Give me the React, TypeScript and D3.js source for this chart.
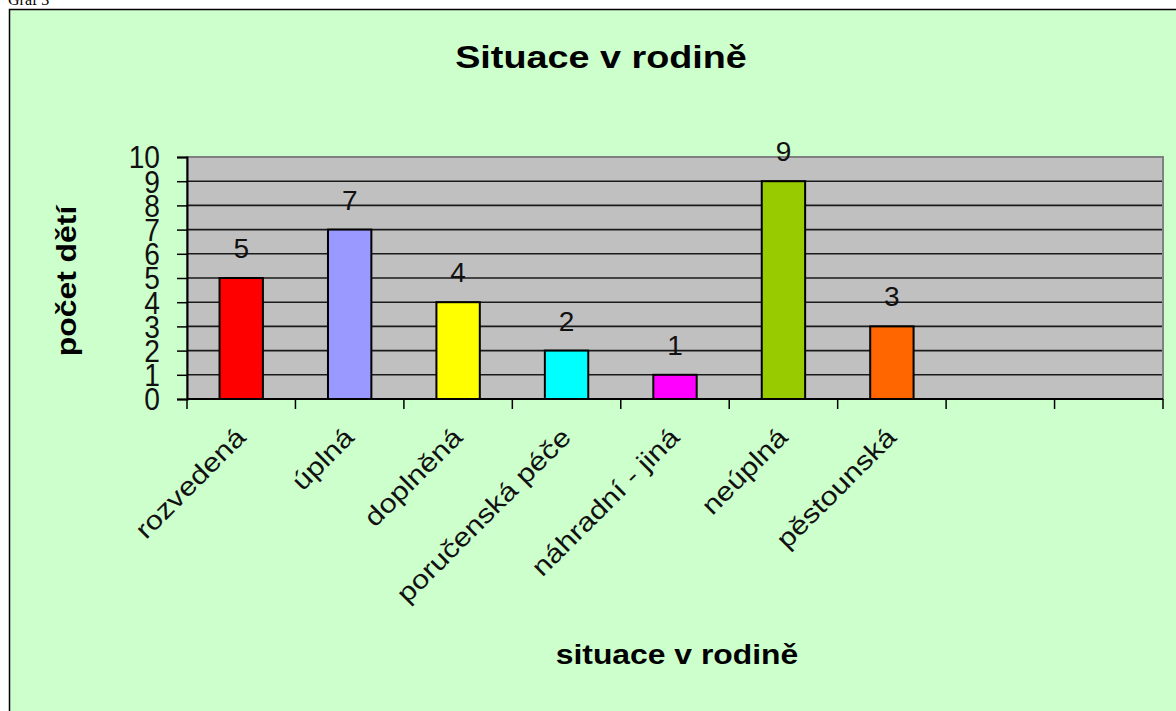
import React, { useEffect, useRef } from "react";
import * as d3 from "d3";

// === Data ===
const categories = ["rozvedená", "úplná", "doplněná", "poručenská péče", "náhradní - jiná", "neúplná", "pěstounská"];
const emptySlots = ["", ""]; // two unused category slots on the right
const values = [5, 7, 4, 2, 1, 9, 3];
const barColors = ["#FF0000", "#9999FF", "#FFFF00", "#00FFFF", "#FF00FF", "#99CC00", "#FF6600"];
const yTicks = [0, 1, 2, 3, 4, 5, 6, 7, 8, 9, 10];

const chartTitle = "Situace v rodině";
const xTitle = "situace v rodině";
const yTitle = "počet dětí";
const caption = "Graf 3";

const FONT = "'Liberation Sans', Arial, sans-serif";
const WIDE = 1.18; // original text is set a bit wider than Arial

const App = () => {
    const ref = useRef<SVGSVGElement>(null);

    useEffect(() => {
        const svg = d3.select(ref.current);
        svg.selectAll("*").remove();

        const width = 1176;
        const height = 711;
        const plot = { left: 187, right: 1163, top: 157, bottom: 399 };

        // rescale a text node's length (wider or narrower than the font's own)
        const fit = (factor: number) => (sel: any) =>
            sel.each(function (this: SVGTextElement) {
                const len = this.getComputedTextLength();
                if (len > 0) {
                    this.setAttribute("textLength", String(len * factor));
                    this.setAttribute("lengthAdjust", "spacingAndGlyphs");
                }
            });

        svg.append("text")
            .attr("x", 8)
            .attr("y", 5)
            .attr("font-family", "'Liberation Serif', 'Times New Roman', serif")
            .attr("font-size", 16)
            .text(caption);

        // chart frame
        svg.append("rect")
            .attr("x", 9.5)
            .attr("y", 9.5)
            .attr("width", width)
            .attr("height", height)
            .attr("fill", "#CCFFCC")
            .attr("stroke", "#000")
            .attr("stroke-width", 1.5);

        const slots = [...categories, ...emptySlots.map((_, i) => `__empty${i}`)];
        const x = d3.scaleBand<string>().domain(slots).range([plot.left, plot.right]).padding(0);
        const y = d3.scaleLinear().domain([0, 10]).range([plot.bottom, plot.top]);

        // plot area
        svg.append("rect")
            .attr("x", plot.left)
            .attr("y", plot.top)
            .attr("width", plot.right - plot.left)
            .attr("height", plot.bottom - plot.top)
            .attr("fill", "#C0C0C0")
            .attr("stroke", "#808080")
            .attr("stroke-width", 2);

        svg.append("g")
            .selectAll("line")
            .data(yTicks.slice(1, -1))
            .join("line")
            .attr("x1", plot.left)
            .attr("x2", plot.right - 1)
            .attr("y1", d => y(d))
            .attr("y2", d => y(d))
            .attr("stroke", "#1a1a1a")
            .attr("stroke-width", 1.6);

        // bars
        const barW = x.bandwidth() * 0.4;
        svg.append("g")
            .selectAll("rect")
            .data(categories)
            .join("rect")
            .attr("x", d => (x(d) ?? 0) + (x.bandwidth() - barW) / 2)
            .attr("y", (d, i) => y(values[i]))
            .attr("width", barW)
            .attr("height", (d, i) => y(0) - y(values[i]))
            .attr("fill", (d, i) => barColors[i])
            .attr("stroke", "#000")
            .attr("stroke-width", 2);

        // value labels
        svg.append("g")
            .selectAll("text")
            .data(categories)
            .join("text")
            .attr("x", d => (x(d) ?? 0) + x.bandwidth() / 2)
            .attr("y", (d, i) => y(values[i]) - 20)
            .attr("text-anchor", "middle")
            .attr("font-family", FONT)
            .attr("font-size", 28)
            .attr("fill", "#111")
            .text((d, i) => values[i]);

        // y axis
        const yAxis = svg.append("g")
            .attr("transform", `translate(${plot.left},0)`)
            .call(d3.axisLeft(y).tickValues(yTicks).tickSize(10).tickPadding(17).tickFormat(d3.format("d")));
        yAxis.select(".domain").attr("stroke", "#000").attr("stroke-width", 2);
        yAxis.selectAll(".tick line").attr("stroke", "#000").attr("stroke-width", 1.5);
        yAxis.selectAll(".tick text")
            .attr("font-family", FONT)
            .attr("font-size", 32)
            .attr("dy", "0.34em")
            .attr("fill", "#111")
            .call(fit(0.88));

        // x axis with ticks on slot boundaries
        const xg = svg.append("g");
        xg.append("line")
            .attr("x1", plot.left)
            .attr("x2", plot.right)
            .attr("y1", plot.bottom)
            .attr("y2", plot.bottom)
            .attr("stroke", "#000")
            .attr("stroke-width", 2);
        xg.selectAll("line.tick")
            .data([...slots.map(s => x(s) ?? 0), plot.right])
            .join("line")
            .attr("class", "tick")
            .attr("x1", d => d)
            .attr("x2", d => d)
            .attr("y1", plot.bottom)
            .attr("y2", plot.bottom + 10)
            .attr("stroke", "#000")
            .attr("stroke-width", 1.5);

        xg.selectAll("text")
            .data(categories)
            .join("text")
            .attr("transform", d => `translate(${(x(d) ?? 0) + x.bandwidth() / 2 + 6},${plot.bottom + 40}) rotate(-45)`)
            .attr("text-anchor", "end")
            .attr("font-family", FONT)
            .attr("font-size", 26)
            .attr("fill", "#111")
            .text(d => d)
            .call(fit(WIDE));

        // titles
        svg.append("text")
            .attr("x", 601)
            .attr("y", 68)
            .attr("text-anchor", "middle")
            .attr("font-family", FONT)
            .attr("font-weight", "bold")
            .attr("font-size", 32)
            .text(chartTitle)
            .call(fit(WIDE));

        svg.append("text")
            .attr("x", 677)
            .attr("y", 664)
            .attr("text-anchor", "middle")
            .attr("font-family", FONT)
            .attr("font-weight", "bold")
            .attr("font-size", 27)
            .text(xTitle)
            .call(fit(WIDE));

        svg.append("text")
            .attr("transform", "translate(76,281) rotate(-90)")
            .attr("text-anchor", "middle")
            .attr("font-family", FONT)
            .attr("font-weight", "bold")
            .attr("font-size", 27)
            .text(yTitle)
            .call(fit(WIDE));
    }, []);

    return (
        <svg
            ref={ref}
            width={1176}
            height={711}
            style={{ position: "absolute", left: 0, top: 0, display: "block" }}
        />
    );
};

export default App;
